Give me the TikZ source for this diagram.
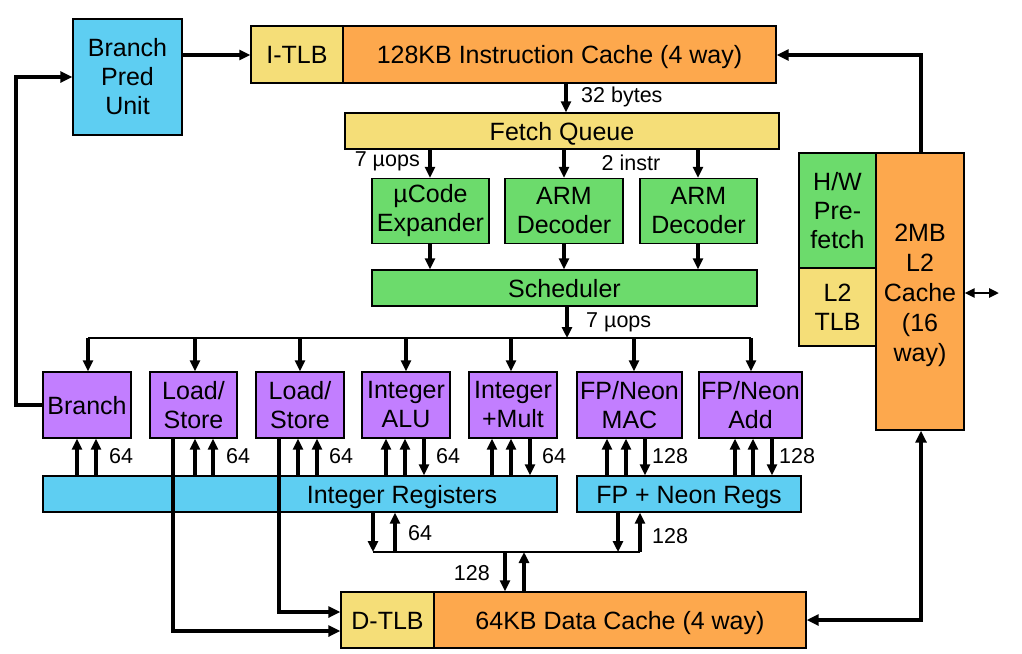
\documentclass[tikz,border=0pt]{standalone}
\usepackage{fontspec}
\setmainfont{Liberation Sans}
\usetikzlibrary{arrows.meta}
\definecolor{cblue}{HTML}{5ECEF2}
\definecolor{corange}{HTML}{FDA84D}
\definecolor{cyellow}{HTML}{F5DE78}
\definecolor{cgreen}{HTML}{6CDB6C}
\definecolor{cpurple}{HTML}{C27EFF}
\tikzset{
  box/.style={draw=black, line width=1.4pt, inner sep=0pt, align=center,
    font=\fontsize{25}{29}\selectfont},
  one/.style={text height=18pt, text depth=0pt},
  lbl/.style={inner sep=0pt, font=\fontsize{21.5}{24}\selectfont},
  arr/.style={line width=3.2pt, -{Triangle[length=11pt,width=10pt]}},
  big/.style={line width=4.2pt, -{Triangle[length=12pt,width=11pt]}},
  bigboth/.style={line width=4.2pt, {Triangle[length=12pt,width=11pt]}-{Triangle[length=12pt,width=11pt]}},
  bus/.style={line width=2.8pt},
}
\begin{document}
\begin{tikzpicture}[x=1pt,y=-1pt]
\useasboundingbox (0,0) rectangle (1022,653);
% front end
\node[box, fill=cblue, minimum width=109pt, minimum height=116pt] (bpu) at (127.5,77) {Branch\\Pred\\Unit};
\node[box, one, fill=cyellow, minimum width=92pt, minimum height=57pt] (itlb) at (297,54.5) {I-TLB};
\node[box, one, fill=corange, minimum width=433pt, minimum height=57pt] (icache) at (559.5,54.5) {128KB Instruction Cache (4 way)};
\node[box, one, fill=cyellow, minimum width=434pt, minimum height=36pt] (fq) at (562,131) {Fetch Queue};
\node[box, fill=cgreen, minimum width=117pt, minimum height=65pt] (ucode) at (430.5,211) {µCode\\Expander};
\node[box, fill=cgreen, minimum width=118pt, minimum height=65pt] (arm1) at (564,211) {ARM\\Decoder};
\node[box, fill=cgreen, minimum width=117pt, minimum height=65pt] (arm2) at (698.5,211) {ARM\\Decoder};
\node[box, one, fill=cgreen, minimum width=385pt, minimum height=36pt] (sched) at (564.5,288) {Scheduler};
% execution units
\node[box, one, fill=cpurple, minimum width=88pt, minimum height=66pt] (branch) at (87,405) {Branch};
\node[box, fill=cpurple, minimum width=87pt, minimum height=66pt] (ls1) at (193.5,405) {Load/\\Store};
\node[box, fill=cpurple, minimum width=88pt, minimum height=66pt] (ls2) at (300,405) {Load/\\Store};
\node[box, fill=cpurple, minimum width=88pt, minimum height=66pt] (ialu) at (406,405) {Integer\\ALU};
\node[box, fill=cpurple, minimum width=88pt, minimum height=66pt] (imul) at (513,405) {Integer\\+Mult};
\node[box, fill=cpurple, minimum width=105pt, minimum height=66pt] (fmac) at (629.5,405) {FP/Neon\\MAC};
\node[box, fill=cpurple, minimum width=103pt, minimum height=66pt] (fadd) at (750.5,405) {FP/Neon\\Add};
% registers
\node[box, fill=cblue, minimum width=514pt, minimum height=36pt] (intreg) at (300,494) {};
\node[box, one, draw=none] (intregtext) at (402,494) {Integer Registers};
\node[box, one, fill=cblue, minimum width=224pt, minimum height=36pt] (fpreg) at (689,494) {FP + Neon Regs};
% data cache
\node[box, one, fill=cyellow, minimum width=93pt, minimum height=56pt] (dtlb) at (387.5,620) {D-TLB};
\node[box, one, fill=corange, minimum width=372pt, minimum height=56pt] (dcache) at (620,620) {64KB Data Cache (4 way)};
% L2
\node[box, fill=cgreen, minimum width=77pt, minimum height=115pt] (hwpf) at (837.5,210.5) {H/W\\Pre-\\fetch};
\node[box, fill=cyellow, minimum width=77pt, minimum height=78pt] (l2tlb) at (837.5,307) {L2\\TLB};
\node[box, fill=corange, minimum width=88pt, minimum height=277pt] (l2) at (920,291.5) {};
\node[box, draw=none, font=\fontsize{25}{30}\selectfont] (l2text) at (920,295.5) {2MB\\L2\\Cache\\(16\\way)};

% connectors: front end
\draw[arr] (bpu.east |- 0,55) -- (itlb.west |- 0,55);
\draw[big] (branch.west) -- (16,405) -- (16,77) -- (bpu.west |- 0,77);
\draw[big] (921,0 |- l2.north) -- (921,55) -- (icache.east |- 0,55);
\draw[arr] (566,0 |- icache.south) -- (566,0 |- fq.north);
\node[lbl, anchor=west] (l32) at (581,97) {32 bytes};
\draw[arr] (430,0 |- fq.south) -- (430,0 |- ucode.north);
\draw[arr] (564,0 |- fq.south) -- (564,0 |- arm1.north);
\draw[arr] (698,0 |- fq.south) -- (698,0 |- arm2.north);
\node[lbl, anchor=east] (l7a) at (420,161) {7 µops};
\node[lbl] (l2i) at (631,163) {2 instr};
\draw[arr] (430,0 |- ucode.south) -- (430,0 |- sched.north);
\draw[arr] (564,0 |- arm1.south) -- (564,0 |- sched.north);
\draw[arr] (698,0 |- arm2.south) -- (698,0 |- sched.north);
% issue bus
\coordinate (busL) at (88,338);
\coordinate (busR) at (751,338);
\draw[arr] (567,0 |- sched.south) -- (567,0 |- busL);
\node[lbl, anchor=west] (l7b) at (586,322) {7 µops};
\draw[bus] (busL) -- (busR);
\draw[arr] (busL) -- (88,0 |- branch.north);
\draw[arr] (195,0 |- busL) -- (195,0 |- ls1.north);
\draw[arr] (300,0 |- busL) -- (300,0 |- ls2.north);
\draw[arr] (406,0 |- busL) -- (406,0 |- ialu.north);
\draw[arr] (511,0 |- busL) -- (511,0 |- imul.north);
\draw[arr] (634,0 |- busL) -- (634,0 |- fmac.north);
\draw[arr] (busR) -- (751,0 |- fadd.north);
% units <-> registers
\draw[arr] (77,0 |- intreg.north) -- (77,0 |- branch.south);
\draw[arr] (96,0 |- intreg.north) -- (96,0 |- branch.south);
\node[lbl, anchor=west] (lb64) at (109,456) {64};
\draw[arr] (195,0 |- intreg.north) -- (195,0 |- ls1.south);
\draw[arr] (213,0 |- intreg.north) -- (213,0 |- ls1.south);
\node[lbl, anchor=west] (lls1) at (226,456) {64};
\draw[arr] (298,0 |- intreg.north) -- (298,0 |- ls2.south);
\draw[arr] (317,0 |- intreg.north) -- (317,0 |- ls2.south);
\node[lbl, anchor=west] (lls2) at (329,456) {64};
\draw[arr] (386,0 |- intreg.north) -- (386,0 |- ialu.south);
\draw[arr] (405,0 |- intreg.north) -- (405,0 |- ialu.south);
\draw[arr] (424,0 |- ialu.south) -- (424,0 |- intreg.north);
\node[lbl, anchor=west] (lalu) at (436,456) {64};
\draw[arr] (492,0 |- intreg.north) -- (492,0 |- imul.south);
\draw[arr] (511,0 |- intreg.north) -- (511,0 |- imul.south);
\draw[arr] (530,0 |- imul.south) -- (530,0 |- intreg.north);
\node[lbl, anchor=west] (lmul) at (542,456) {64};
\draw[arr] (607,0 |- fpreg.north) -- (607,0 |- fmac.south);
\draw[arr] (626,0 |- fpreg.north) -- (626,0 |- fmac.south);
\draw[arr] (645,0 |- fmac.south) -- (645,0 |- fpreg.north);
\node[lbl, anchor=west] (lmac) at (652,456) {128};
\draw[arr] (735,0 |- fpreg.north) -- (735,0 |- fadd.south);
\draw[arr] (753,0 |- fpreg.north) -- (753,0 |- fadd.south);
\draw[arr] (772,0 |- fadd.south) -- (772,0 |- fpreg.north);
\node[lbl, anchor=west] (ladd) at (779,456) {128};
% load/store to D-TLB
\draw[big] (173,0 |- ls1.south) -- (173,631) -- (dtlb.west |- 0,631);
\draw[big] (279,0 |- ls2.south) -- (279,612) -- (dtlb.west |- 0,612);
% registers <-> data cache
\coordinate (dbL) at (373,552);
\coordinate (dbR) at (640,552);
\draw[bus] (dbL) -- (dbR);
\draw[arr] (373,0 |- intreg.south) -- (dbL);
\draw[arr] (395,0 |- dbL) -- (395,0 |- intreg.south);
\node[lbl, anchor=west] (lint64) at (408,533) {64};
\draw[arr] (618,0 |- fpreg.south) -- (618,0 |- dbL);
\draw[arr] (dbR) -- (640,0 |- fpreg.south);
\node[lbl, anchor=west] (lfp128) at (652,536) {128};
\draw[arr] (505,0 |- dbL) -- (505,0 |- dcache.north);
\draw[arr] (524,0 |- dcache.north) -- (524,0 |- dbL);
\node[lbl, anchor=east] (ld128) at (490,573) {128};
% L2 <-> data cache and outside
\draw[bigboth] (921,0 |- l2.south) -- (921,620) -- (dcache.east);
\coordinate (ext) at (999,293);
\draw[line width=2.8pt, {Triangle[length=10pt,width=9pt]}-{Triangle[length=10pt,width=9pt]}] (l2.east |- ext) -- (ext);
\end{tikzpicture}
\end{document}
